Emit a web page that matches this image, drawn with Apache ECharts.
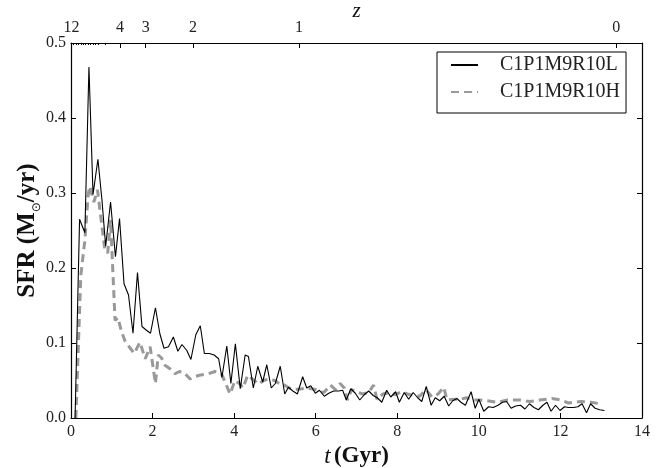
<!DOCTYPE html>
<html>
<head>
<meta charset="utf-8">
<script src="https://cdn.jsdelivr.net/npm/echarts@6/dist/echarts.min.js"></script>
<style>
html,body{margin:0;padding:0;background:#fff;}
#chart{width:662px;height:468px;}
</style>
</head>
<body>
<div id="chart"></div>
<script>
// ---- data ----
const seriesNames = ['C1P1M9R10L', 'C1P1M9R10H'];

const tL = [0.10,0.21,0.34,0.44,0.54,0.66,0.76,0.85,0.97,1.09,1.19,1.30,1.41,1.52,1.63,1.74,1.85,1.95,2.07,2.18,2.28,2.39,2.51,2.62,2.72,2.84,2.94,3.06,3.17,3.27,3.39,3.51,3.62,3.70,3.82,3.92,4.03,4.15,4.27,4.35,4.47,4.58,4.70,4.80,4.91,5.01,5.13,5.24,5.33,5.44,5.55,5.68,5.78,5.88,5.99,6.09,6.21,6.32,6.44,6.56,6.66,6.75,6.86,6.97,7.08,7.19,7.30,7.41,7.51,7.62,7.74,7.84,7.96,8.05,8.17,8.28,8.39,8.50,8.60,8.71,8.83,8.93,9.04,9.15,9.26,9.36,9.46,9.56,9.67,9.81,9.91,10.00,10.12,10.24,10.35,10.47,10.58,10.68,10.79,10.90,11.02,11.13,11.24,11.35,11.46,11.57,11.67,11.77,11.88,11.99,12.10,12.20,12.32,12.43,12.53,12.64,12.74,12.85,12.96,13.08];
const sfrL = [0.0,0.265,0.247,0.468,0.298,0.345,0.29,0.229,0.288,0.215,0.266,0.179,0.164,0.113,0.194,0.122,0.117,0.113,0.147,0.112,0.093,0.095,0.108,0.089,0.098,0.090,0.078,0.111,0.123,0.086,0.086,0.084,0.079,0.054,0.096,0.046,0.099,0.039,0.084,0.082,0.040,0.069,0.048,0.071,0.040,0.046,0.069,0.032,0.041,0.036,0.032,0.055,0.040,0.043,0.033,0.037,0.029,0.033,0.036,0.036,0.037,0.024,0.039,0.033,0.024,0.031,0.036,0.030,0.027,0.021,0.037,0.028,0.035,0.021,0.034,0.025,0.034,0.027,0.022,0.042,0.017,0.027,0.023,0.029,0.016,0.023,0.026,0.021,0.017,0.035,0.013,0.025,0.009,0.015,0.014,0.017,0.021,0.022,0.013,0.016,0.017,0.012,0.019,0.014,0.011,0.017,0.021,0.009,0.017,0.010,0.015,0.014,0.014,0.015,0.019,0.007,0.019,0.013,0.011,0.010];

const tH = [0.12,0.24,0.34,0.42,0.46,0.56,0.65,0.74,0.83,0.90,0.97,1.08,1.15,1.24,1.33,1.44,1.55,1.69,1.82,1.94,2.07,2.14,2.22,2.31,2.42,2.55,2.66,2.78,2.92,3.03,3.15,3.27,3.37,3.53,3.69,3.80,3.90,4.02,4.15,4.22,4.33,4.47,4.60,4.72,4.85,5.00,5.12,5.23,5.35,5.50,5.66,5.80,5.99,6.10,6.20,6.36,6.48,6.60,6.70,6.78,6.88,7.00,7.15,7.30,7.42,7.50,7.65,7.80,7.95,8.10,8.25,8.40,8.55,8.70,8.85,9.00,9.14,9.22,9.40,9.55,9.70,9.85,10.00,10.20,10.45,10.70,11.01,11.25,11.49,11.79,12.00,12.20,12.50,12.75,12.97];
const sfrH = [0.0,0.19,0.237,0.297,0.309,0.288,0.304,0.264,0.224,0.220,0.264,0.130,0.134,0.115,0.102,0.094,0.086,0.101,0.079,0.095,0.046,0.084,0.080,0.070,0.066,0.059,0.062,0.060,0.052,0.055,0.057,0.058,0.059,0.062,0.059,0.045,0.032,0.050,0.045,0.040,0.057,0.051,0.045,0.050,0.052,0.050,0.045,0.044,0.040,0.038,0.039,0.040,0.038,0.035,0.034,0.044,0.038,0.046,0.040,0.024,0.038,0.035,0.032,0.034,0.044,0.025,0.032,0.034,0.031,0.035,0.032,0.030,0.029,0.038,0.028,0.032,0.041,0.024,0.025,0.025,0.027,0.024,0.024,0.023,0.021,0.024,0.024,0.022,0.024,0.026,0.024,0.020,0.022,0.021,0.019];

// top redshift axis: tick labels and their positions in t (Gyr)
const zLabels = ['12','4','3','2','1','0'];
const zTickT = [0.01,1.20,1.83,2.99,5.59,13.37];
const zMinorT = [0.06,0.12,0.18,0.24,0.30,0.36,0.42,0.48,0.54,0.60,0.68,0.83];

// ---- chart ----
const FONT = 'Liberation Serif';
const chart = echarts.init(document.getElementById('chart'), null, {renderer:'canvas'});
const axisLine = {show:true, onZero:false, lineStyle:{color:'#000', width:1.2}};

const option = {
  animation:false,
  backgroundColor:'#fff',
  grid:{left:71, right:20, top:43, bottom:50, containLabel:false, outerBoundsMode:'none'},
  xAxis:[
    {type:'value', position:'bottom', min:0, max:14, interval:2,
     axisLine:axisLine,
     axisTick:{show:true, inside:true, length:5, lineStyle:{color:'#000'}},
     axisLabel:{fontFamily:FONT, fontSize:16, color:'#222', margin:6, formatter:v=>String(v)},
     splitLine:{show:false},
     name:'{it|t} {bd|(Gyr)}', nameLocation:'middle', nameGap:27,
     nameTextStyle:{rich:{
        it:{fontFamily:FONT, fontStyle:'italic', fontSize:23, color:'#111'},
        bd:{fontFamily:FONT, fontWeight:'bold', fontSize:23, color:'#111'}}}
    },
    {type:'value', position:'top', min:0, max:14,
     axisLine:axisLine,
     axisTick:{show:true, inside:true, length:5, customValues:zTickT, lineStyle:{color:'#000'}},
     axisLabel:{show:true, customValues:zTickT, fontFamily:FONT, fontSize:16, color:'#222', margin:7,
       formatter:v=>{let bi=0,bd=1e9;zTickT.forEach((t,i)=>{const d=Math.abs(t-v);if(d<bd){bd=d;bi=i;}});return zLabels[bi];}},
     splitLine:{show:false},
     name:'z', nameLocation:'middle', nameGap:21, nameMoveOverlap:false,
     nameTextStyle:{fontFamily:FONT, fontStyle:'italic', fontSize:21, color:'#111'}
    },
    {type:'value', position:'top', min:0, max:14,
     axisLine:{show:false, onZero:false},
     axisTick:{show:true, inside:true, length:2, customValues:zMinorT, lineStyle:{color:'#000'}},
     axisLabel:{show:false},
     splitLine:{show:false}
    }
  ],
  yAxis:[
    {type:'value', position:'left', min:0, max:0.5, interval:0.1,
     axisLine:axisLine,
     axisTick:{show:true, inside:true, length:5, lineStyle:{color:'#000'}},
     axisLabel:{fontFamily:FONT, fontSize:16, color:'#222', margin:5, formatter:v=>v.toFixed(1)},
     splitLine:{show:false},
     name:'{a|SFR (M}{s|⊙}{a|/yr)}', nameLocation:'middle', nameGap:28, nameRotate:90, nameMoveOverlap:false,
     nameTextStyle:{rich:{
        a:{fontFamily:FONT, fontWeight:'bold', fontSize:25, color:'#111', lineHeight:30},
        s:{fontFamily:'DejaVu Sans', fontSize:12, color:'#111', lineHeight:14, verticalAlign:'bottom'}}}
    },
    {type:'value', position:'right', min:0, max:0.5, interval:0.1,
     axisLine:axisLine,
     axisTick:{show:true, inside:true, length:5, lineStyle:{color:'#000'}},
     axisLabel:{show:false},
     splitLine:{show:false}
    }
  ],
  legend:{
    show:true, orient:'vertical', left:437, top:52,
    data:seriesNames,
    itemWidth:27, itemHeight:20, itemGap:7,
    padding:[3,6,11,13],
    itemStyle:{opacity:0},
    backgroundColor:'#fff', borderColor:'#000', borderWidth:1, borderRadius:0,
    textStyle:{fontFamily:FONT, fontSize:20, color:'#222', padding:[0,0,0,17]}
  },
  series:[
    {name:seriesNames[0], type:'line', xAxisIndex:0, yAxisIndex:0,
     data:tL.map((t,i)=>[t,sfrL[i]]), showSymbol:false, symbol:'none',
     lineStyle:{color:'#000', width:1.1}, itemStyle:{color:'#000'}, z:3},
    {name:seriesNames[1], type:'line', xAxisIndex:0, yAxisIndex:0,
     data:tH.map((t,i)=>[t,sfrH[i]]), showSymbol:false, symbol:'none',
     lineStyle:{color:'#999', width:3, type:[8,5]}, itemStyle:{color:'#999'}, z:2}
  ]
};
chart.setOption(option);
</script>
</body>
</html>
